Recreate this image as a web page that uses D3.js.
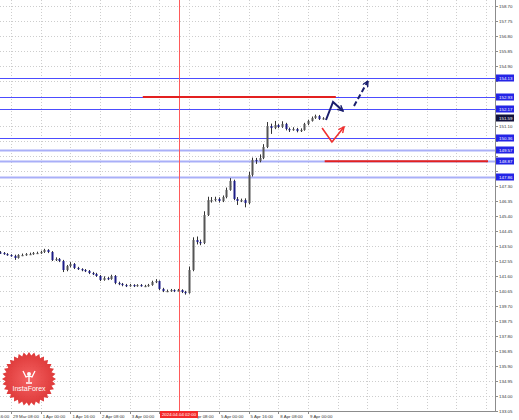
<!DOCTYPE html>
<html>
<head>
<meta charset="utf-8">
<script src="https://cdnjs.cloudflare.com/ajax/libs/d3/7.8.5/d3.min.js"></script>
<style>
  body { margin: 0; background: #fff; }
  svg { display: block; }
  text { font-family: "Liberation Sans", Arial, sans-serif; }
</style>
</head>
<body>
<svg id="chart" width="519" height="420"></svg>
<script>
// price axis tick labels (right side)
var priceTickLabels = ["158.70","157.75","156.80","155.85","154.90","153.95","153.00","152.05","151.10","150.15",
  "149.20","148.25","147.30","146.35","145.40","144.45","143.50","142.55","141.60","140.65",
  "139.70","138.75","137.80","136.85","135.90","134.95","134.00","133.05"];

// time axis, in trading hours from 28 Mar 16:00
var timeTickHours = [0,16,32,48,64,80,96,112,128,144,160,176,192,208,224,240,256,272];
var timeTickLabels = ["28 Mar 16:00","29 Mar 08:00","1 Apr 00:00","1 Apr 16:00","2 Apr 08:00","3 Apr 00:00",
  "","4 Apr 08:00","5 Apr 00:00","5 Apr 16:00","8 Apr 08:00","9 Apr 00:00"];
var markerHour = 106.5;
var markerLabel = "2024.04.04 02:00";

// 2-hour bars starting at hour 10
var firstBarHour = 10, barHours = 2;
var opens = [143.10,143.06,142.99,142.93,142.87,142.74,142.93,142.93,142.99,142.99,143.06,143.06,143.12,143.25,143.12,142.61,142.68,142.55,141.98,142.23,
  142.36,142.11,142.04,141.98,141.92,141.79,141.73,141.60,141.35,141.47,141.41,141.60,141.16,141.10,141.03,140.97,141.03,140.97,141.03,140.97,
  140.97,141.03,141.22,141.28,140.78,140.65,140.65,140.71,140.65,140.71,140.59,140.52,141.98,143.88,143.75,143.69,145.46,146.41,146.41,146.48,
  146.35,146.60,147.05,147.62,146.48,146.35,146.41,146.22,148.00,148.95,148.88,149.07,149.77,151.10,150.97,151.16,151.04,151.23,150.91,150.85,
  150.91,150.78,150.85,151.23,151.42,151.61,151.73,151.54];
var highs = [143.18,143.12,143.05,142.98,142.95,142.98,143.02,143.05,143.08,143.12,143.14,143.20,143.32,143.30,143.18,142.78,142.74,142.62,142.30,142.48,
  142.42,142.18,142.09,142.04,141.98,141.86,141.80,141.66,141.58,141.54,141.68,141.66,141.24,141.16,141.10,141.10,141.08,141.08,141.09,141.04,
  141.10,141.30,141.40,141.32,140.85,140.74,140.78,140.76,140.78,140.76,140.66,142.20,144.05,144.10,143.90,145.70,146.62,146.60,146.62,146.58,
  146.70,147.20,147.80,147.70,146.60,146.50,146.52,148.20,149.10,149.08,149.30,149.95,151.35,151.25,151.42,151.22,151.40,151.30,151.00,151.02,
  150.98,150.95,151.30,151.50,151.70,151.82,151.80,151.66];
var lows = [143.00,142.94,142.88,142.82,142.62,142.70,142.86,142.88,142.93,142.94,143.00,143.00,143.06,143.05,142.55,142.55,142.48,141.85,141.90,142.15,
  142.04,141.98,141.90,141.85,141.72,141.66,141.54,141.28,141.30,141.34,141.36,141.08,141.02,140.95,140.90,140.92,140.90,140.92,140.92,140.90,
  140.92,140.98,141.15,140.70,140.58,140.58,140.60,140.58,140.62,140.52,140.42,140.48,141.90,143.60,143.55,143.62,145.40,146.25,146.32,146.25,
  146.28,146.52,147.00,146.40,146.10,146.28,145.95,146.15,147.90,148.70,148.80,149.00,149.70,150.60,150.90,150.96,150.98,150.82,150.72,150.80,
  150.70,150.72,150.80,151.15,151.38,151.55,151.48,151.50];
var closes = [143.06,142.99,142.93,142.87,142.74,142.93,142.93,142.99,142.99,143.06,143.06,143.12,143.25,143.12,142.61,142.68,142.55,141.98,142.23,142.36,
  142.11,142.04,141.98,141.92,141.79,141.73,141.60,141.35,141.47,141.41,141.60,141.16,141.10,141.03,140.97,141.03,140.97,141.03,140.97,140.97,
  141.03,141.22,141.28,140.78,140.65,140.65,140.71,140.65,140.71,140.59,140.52,141.98,143.88,143.75,143.69,145.46,146.41,146.41,146.48,146.35,
  146.60,147.05,147.62,146.48,146.35,146.41,146.22,148.00,148.95,148.88,149.07,149.77,151.10,150.97,151.16,151.04,151.23,150.91,150.85,150.91,
  150.78,150.85,151.23,151.42,151.61,151.73,151.54,151.59];
var currentPrice = 151.59;

// horizontal levels
var levelPrices = [154.13, 152.93, 152.17, 150.36, 149.57, 148.87, 147.86];
var redLevels = [
  { price: 152.93, from: 87, to: 191 },
  { price: 148.87, from: 185, to: 273 }
];

// forecast arrows [hour, price]
var navyArrow = [[185.7, 151.48], [189.5, 152.62], [194.9, 152.05]];
var navyDashArrow = [[200.8, 152.37], [208.3, 153.95]];
var redArrow = [[183.6, 150.97], [188.9, 150.09], [195.4, 151.04]];

var plotRight = 495, plotBottom = 411;

var svg = d3.select("#chart");
var x = d3.scaleLinear().domain([0, 276]).range([-18.7, 493.6]);
var y = d3.scaleLinear().domain([133.05, 158.70]).range([411, 6]);

var defs = svg.append("defs");
defs.append("clipPath").attr("id", "plotclip")
  .append("rect").attr("x", 0).attr("y", 0).attr("width", plotRight).attr("height", plotBottom);

var g = svg.append("g").attr("clip-path", "url(#plotclip)");

function nearLevel(p) {
  return levelPrices.some(function (l) { return Math.abs(y(l) - y(p)) < 2; });
}

// grid
g.selectAll("line.hgrid").data(priceTickLabels.filter(function (d) { return !nearLevel(+d); }))
  .enter().append("line")
  .attr("x1", 0).attr("x2", plotRight)
  .attr("y1", function (d) { return Math.round(y(+d)) + 0.5; })
  .attr("y2", function (d) { return Math.round(y(+d)) + 0.5; })
  .attr("stroke", "#cdcdcd").attr("stroke-dasharray", "1,2");
g.selectAll("line.vgrid").data(timeTickHours).enter().append("line")
  .attr("y1", 0).attr("y2", plotBottom)
  .attr("x1", function (d) { return Math.round(x(d)) + 0.5; })
  .attr("x2", function (d) { return Math.round(x(d)) + 0.5; })
  .attr("stroke", "#cdcdcd").attr("stroke-dasharray", "1,2");

// blue levels
g.selectAll("line.level").data(levelPrices).enter().append("line")
  .attr("x1", 0).attr("x2", plotRight)
  .attr("y1", function (d) { return Math.round(y(d)) + 0.5; })
  .attr("y2", function (d) { return Math.round(y(d)) + 0.5; })
  .attr("stroke", function (d, i) { return i < 4 ? "#4c4cff" : "#a9aff8"; })
  .attr("stroke-width", function (d, i) { return i < 4 ? 1 : 2; });

// red vertical marker
g.append("line")
  .attr("x1", Math.round(x(markerHour)) + 0.5).attr("x2", Math.round(x(markerHour)) + 0.5)
  .attr("y1", 0).attr("y2", plotBottom)
  .attr("stroke", "#ff5a5a").attr("stroke-width", 1);

// red levels
g.selectAll("line.red").data(redLevels).enter().append("line")
  .attr("x1", function (d) { return x(d.from); })
  .attr("x2", function (d) { return x(d.to); })
  .attr("y1", function (d) { return y(d.price); })
  .attr("y2", function (d) { return y(d.price); })
  .attr("stroke", "#e32020").attr("stroke-width", 2);

// bars
var bars = g.append("g").selectAll("g").data(closes).enter().append("g");
bars.append("line")
  .attr("x1", function (d, i) { return Math.round(x(firstBarHour + i * barHours)) + 0.5; })
  .attr("x2", function (d, i) { return Math.round(x(firstBarHour + i * barHours)) + 0.5; })
  .attr("y1", function (d, i) { return y(highs[i]); })
  .attr("y2", function (d, i) { return y(lows[i]); })
  .attr("stroke", "#333").attr("stroke-width", 1);
bars.append("rect")
  .attr("x", function (d, i) { return Math.round(x(firstBarHour + i * barHours)) - 0.5; })
  .attr("width", 2)
  .attr("y", function (d, i) { return y(Math.max(opens[i], d)); })
  .attr("height", function (d, i) { return Math.max(1.2, Math.abs(y(opens[i]) - y(d))); })
  .attr("fill", function (d, i) { return d < opens[i] ? "#1c1c86" : "#555"; });

// arrows
function marker(id, color) {
  defs.append("marker").attr("id", id)
    .attr("viewBox", "0 0 10 10").attr("refX", 9).attr("refY", 5)
    .attr("markerWidth", 7).attr("markerHeight", 7)
    .attr("markerUnits", "userSpaceOnUse").attr("orient", "auto")
    .append("path").attr("d", "M1,1 L9,5 L1,9")
    .attr("fill", "none").attr("stroke", color).attr("stroke-width", 2);
}
marker("mNavy", "#1b1f6e");
marker("mRed", "#f03030");

var arrowLine = d3.line()
  .x(function (d) { return x(d[0]); })
  .y(function (d) { return y(d[1]); });

g.append("path").attr("d", arrowLine(navyArrow))
  .attr("fill", "none").attr("stroke", "#1b1f6e").attr("stroke-width", 2)
  .attr("marker-end", "url(#mNavy)");
g.append("path").attr("d", arrowLine(navyDashArrow))
  .attr("fill", "none").attr("stroke", "#1b1f6e").attr("stroke-width", 2)
  .attr("stroke-dasharray", "5,3")
  .attr("marker-end", "url(#mNavy)");
g.append("path").attr("d", arrowLine(redArrow))
  .attr("fill", "none").attr("stroke", "#f03030").attr("stroke-width", 1.6)
  .attr("marker-end", "url(#mRed)");

// axes frame
svg.append("line").attr("x1", plotRight + 0.5).attr("x2", plotRight + 0.5)
  .attr("y1", 0).attr("y2", plotBottom + 0.5).attr("stroke", "#8c8c8c");
svg.append("line").attr("x1", 0).attr("x2", plotRight + 0.5)
  .attr("y1", plotBottom + 0.5).attr("y2", plotBottom + 0.5).attr("stroke", "#8c8c8c");

// right axis labels (ticks hidden under the level boxes are skipped)
var boxPrices = levelPrices.concat([currentPrice]);
function underBox(p) {
  return boxPrices.some(function (b) { return Math.abs(y(b) - y(p)) < 6.5; });
}
var rAxis = svg.append("g");
rAxis.selectAll("line").data(priceTickLabels).enter().append("line")
  .attr("x1", plotRight).attr("x2", plotRight + 3)
  .attr("y1", function (d) { return Math.round(y(+d)) + 0.5; })
  .attr("y2", function (d) { return Math.round(y(+d)) + 0.5; })
  .attr("stroke", "#8c8c8c");
rAxis.selectAll("text").data(priceTickLabels.filter(function (d) { return !underBox(+d); }))
  .enter().append("text")
  .attr("x", plotRight + 4).attr("y", function (d) { return y(+d); })
  .attr("dy", "0.35em").attr("font-size", 4.4).attr("fill", "#333")
  .text(function (d) { return d; });

function priceBox(p, fill) {
  var b = svg.append("g").attr("transform", "translate(" + (plotRight + 1) + "," + Math.round(y(p)) + ")");
  b.append("rect").attr("x", 0).attr("y", -3.5).attr("width", 18).attr("height", 7).attr("fill", fill);
  b.append("text").attr("x", 3).attr("y", 0).attr("dy", "0.35em")
    .attr("font-size", 4.4).attr("fill", "#fff").text(d3.format(".2f")(p));
}
levelPrices.forEach(function (p) { priceBox(p, "#2424e6"); });
priceBox(currentPrice, "#12123c");

// bottom axis labels
var bAxis = svg.append("g");
bAxis.selectAll("line").data(timeTickLabels).enter().append("line")
  .attr("x1", function (d, i) { return Math.round(x(timeTickHours[i])) + 0.5; })
  .attr("x2", function (d, i) { return Math.round(x(timeTickHours[i])) + 0.5; })
  .attr("y1", plotBottom).attr("y2", plotBottom + 3).attr("stroke", "#8c8c8c");
bAxis.selectAll("text").data(timeTickLabels).enter().append("text")
  .attr("x", function (d, i) { return x(timeTickHours[i]) + 2; })
  .attr("y", 417.5).attr("font-size", 4.4).attr("fill", "#333")
  .text(function (d) { return d; });

var mk = svg.append("g").attr("transform", "translate(" + x(markerHour) + ",414.5)");
mk.append("rect").attr("x", -19).attr("y", -3.5).attr("width", 38).attr("height", 7).attr("fill", "#f42a2a");
mk.append("text").attr("text-anchor", "middle").attr("dy", "0.35em")
  .attr("font-size", 4.4).attr("fill", "#fff").text(markerLabel);

// InstaForex badge
var logo = svg.append("g").attr("transform", "translate(29,379)");
var grad = defs.append("radialGradient").attr("id", "lg");
grad.append("stop").attr("offset", "0%").attr("stop-color", "#f45a5a");
grad.append("stop").attr("offset", "100%").attr("stop-color", "#dc2e2e");
var teeth = d3.range(64).map(function (i) {
  return [i / 64 * 2 * Math.PI, i % 2 ? 23.5 : 27];
});
logo.append("path").attr("d", d3.lineRadial().curve(d3.curveLinearClosed)(teeth))
  .attr("fill", "url(#lg)").attr("opacity", 0.95);
logo.append("circle").attr("cx", 0).attr("cy", -5).attr("r", 2).attr("fill", "#fff");
logo.append("path").attr("d", "M-6,-8 L-3,-2 L0,-3 L3,-2 L6,-8 M0,-3 L0,3 M-3,4 L3,4")
  .attr("fill", "none").attr("stroke", "#fff").attr("stroke-width", 1.3);
logo.append("text").attr("y", 12).attr("text-anchor", "middle")
  .attr("font-size", 7).attr("fill", "#fff").text("InstaForex");
</script>
</body>
</html>
